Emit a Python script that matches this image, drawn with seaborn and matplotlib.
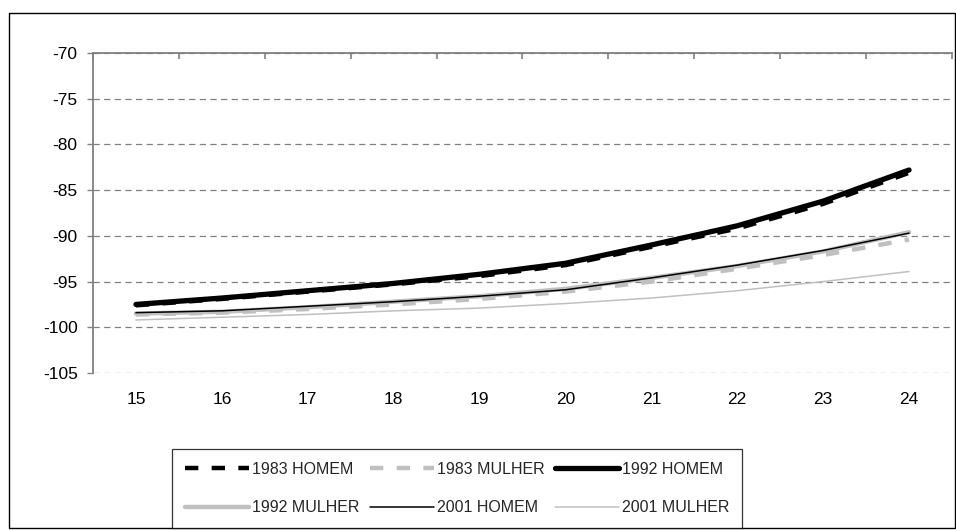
import matplotlib
matplotlib.use("Agg")
import matplotlib.pyplot as plt
from matplotlib import font_manager
from matplotlib.lines import Line2D
from matplotlib.patches import Rectangle
import pandas as pd
import seaborn as sns

# Ages on the category axis
ages = [15, 16, 17, 18, 19, 20, 21, 22, 23, 24]

# Series values (one list per year / sex)
h1983 = [-97.6, -96.9, -96.1, -95.3, -94.4, -93.2, -91.2, -89.2, -86.5, -83.1]
m1983 = [-98.6, -98.4, -98.0, -97.5, -96.9, -96.1, -95.0, -93.6, -92.1, -90.4]
h1992 = [-97.5, -96.8, -96.0, -95.2, -94.2, -93.0, -91.0, -88.9, -86.2, -82.8]
m1992 = [-98.5, -98.3, -97.8, -97.2, -96.6, -95.8, -94.6, -93.3, -91.7, -89.6]
h2001 = [-98.4, -98.2, -97.7, -97.2, -96.6, -95.9, -94.6, -93.2, -91.6, -89.7]
m2001 = [-99.2, -98.9, -98.6, -98.2, -97.9, -97.4, -96.8, -96.0, -95.0, -93.9]

series_names = ["1983 HOMEM", "1983 MULHER", "1992 HOMEM",
                "1992 MULHER", "2001 HOMEM", "2001 MULHER"]
series_values = [h1983, m1983, h1992, m1992, h2001, m2001]

y_ticks = [-70, -75, -80, -85, -90, -95, -100, -105]

sns.set_theme(style="white")
available = {f.name for f in font_manager.fontManager.ttflist}
base_font = "Liberation Sans" if "Liberation Sans" in available else "DejaVu Sans"
plt.rcParams["font.family"] = [base_font, "DejaVu Sans"]

W, H = 956, 530
fig = plt.figure(figsize=(W / 100, H / 100), dpi=100)
fig.patch.set_facecolor("white")

# plot area in pixel terms
left, right, top, bottom = 93, 952, 53, 373
ax = fig.add_axes([left / W, 1 - bottom / H, (right - left) / W, (bottom - top) / H])

gray = "#c0c0c0"
styles = [
    dict(color="black", lw=3.2, ls=(0, (3, 3))),
    dict(color=gray, lw=3.2, ls=(0, (3, 3))),
    dict(color="black", lw=3.8, ls="-"),
    dict(color=gray, lw=3.2, ls="-"),
    dict(color="black", lw=1.1, ls="-"),
    dict(color=gray, lw=1.1, ls="-"),
]

for name, vals, st in zip(series_names, series_values, styles):
    df = pd.DataFrame({"idade": ages, "valor": vals})
    sns.lineplot(data=df, x="idade", y="valor", ax=ax, color=st["color"],
                 linewidth=st["lw"], linestyle=st["ls"], solid_capstyle="round",
                 dash_capstyle="butt", legend=False, zorder=3)

ax.set_xlim(ages[0] - 0.5, ages[-1] + 0.5)
ax.set_ylim(-105, -70)
ax.set_yticks(y_ticks)
ax.set_yticklabels([str(v) for v in y_ticks])
ax.set_xticks(ages)
ax.set_xticklabels([str(a) for a in ages])
ax.set_xlabel("")
ax.set_ylabel("")

# dashed horizontal grid
ax.yaxis.grid(True, color="#808080", linestyle=(0, (5, 3.5)), linewidth=0.9)
ax.xaxis.grid(False)
ax.set_axisbelow(True)

axis_gray = "#808080"
for s in ["bottom", "right"]:
    ax.spines[s].set_visible(False)
for s in ["left", "top"]:
    ax.spines[s].set_visible(True)
    ax.spines[s].set_color(axis_gray)
    ax.spines[s].set_linewidth(1.3)

ax.tick_params(axis="y", which="major", left=True, length=4, width=1, color=axis_gray,
               direction="out", pad=7, labelsize=12.5, labelcolor="black")
ax.tick_params(axis="x", which="major", bottom=False, top=False, length=0, pad=14,
               labelsize=12.5, labelcolor="black")
# category boundary ticks along the top axis line
ax.set_xticks([a - 0.5 for a in ages] + [ages[-1] + 0.5], minor=True)
ax.tick_params(axis="x", which="minor", top=True, bottom=False, length=4, width=1.2,
               color=axis_gray, direction="in")
ax.set_facecolor("white")

# legend, filled row by row (matplotlib fills columns first)
handles = [Line2D([0], [0], color=st["color"], lw=st["lw"], ls=st["ls"],
                  dash_capstyle="butt") for st in styles]
order = [0, 3, 1, 4, 2, 5]
leg = fig.legend([handles[i] for i in order], [series_names[i] for i in order],
                 ncol=3, loc="lower left",
                 bbox_to_anchor=(172 / W, 2 / H, (742 - 172) / W, (528 - 447) / H),
                 mode="expand", frameon=True, fancybox=False, edgecolor="black",
                 handlelength=4.0, handletextpad=0.2, columnspacing=0.3,
                 borderpad=0.8, labelspacing=1.45, borderaxespad=0,
                 prop={"family": [base_font, "DejaVu Sans"], "size": 11.5})
leg.get_frame().set_linewidth(0.9)

# outer chart border
fig.add_artist(Rectangle((9 / W, 2 / H), (955 - 9) / W, (528 - 13) / H,
                         transform=fig.transFigure, fill=False,
                         edgecolor="black", linewidth=1.0))

fig.savefig("out.png", dpi=100, facecolor="white")
